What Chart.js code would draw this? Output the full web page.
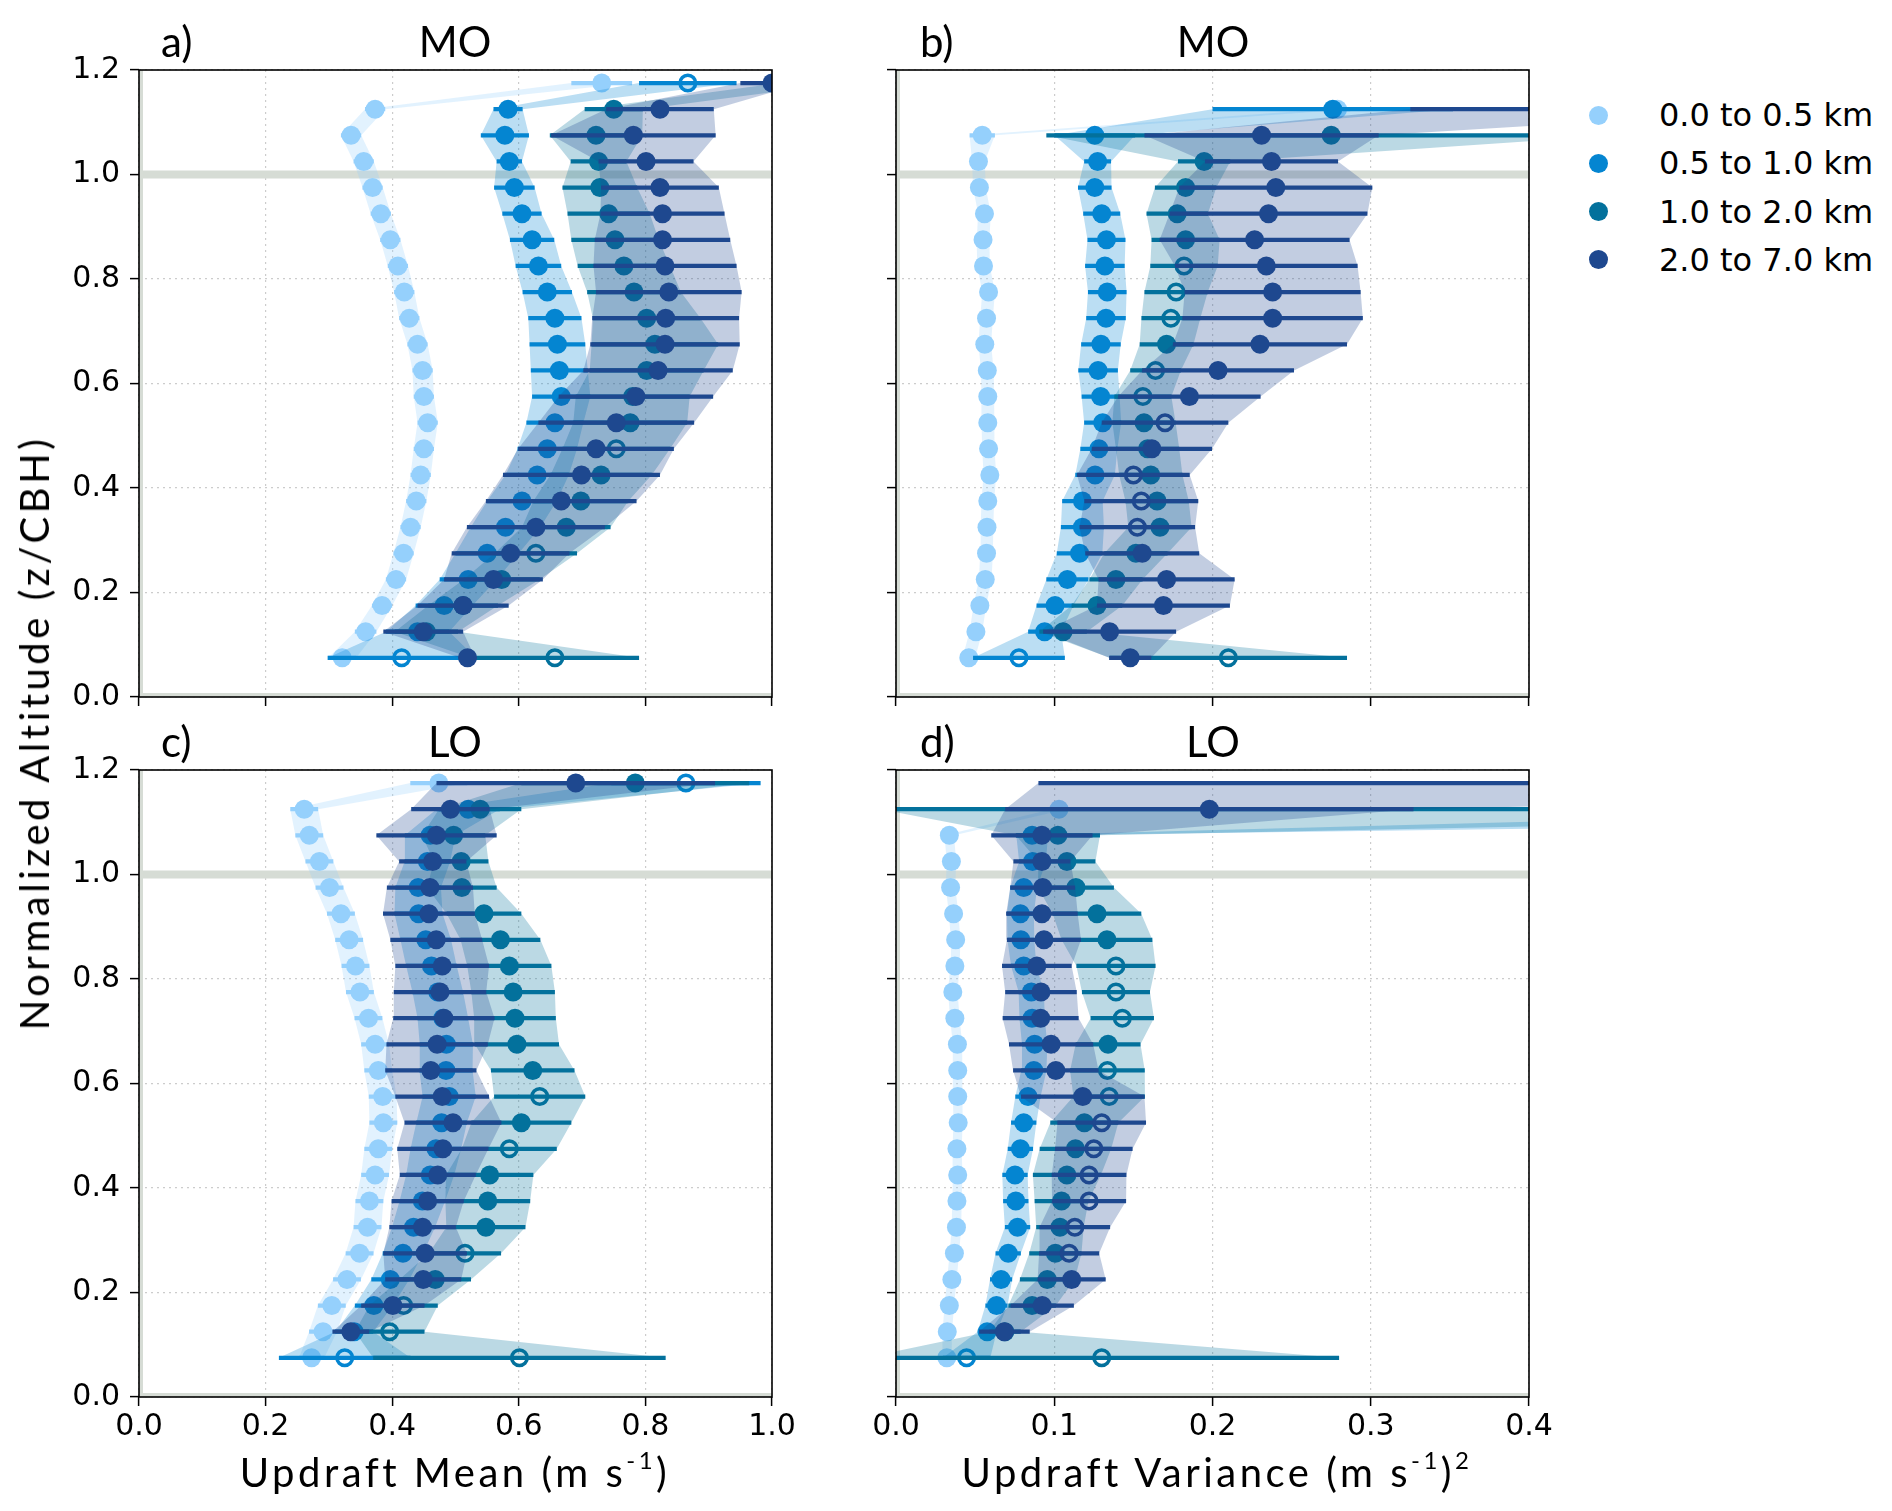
<!DOCTYPE html>
<html>
<head>
<meta charset="utf-8">
<script src="https://cdn.jsdelivr.net/npm/chart.js@4.4.1/dist/chart.umd.min.js"></script>
<style>
  body { margin: 0; background: #fff; width: 1892px; height: 1511px; position: relative; overflow: hidden; }
  canvas { position: absolute; }
  .txt { position: absolute; font-family: Lato, sans-serif; color: #000; white-space: nowrap; line-height: 1; z-index: 5; }
  .sup { font-size: 0.6em; position: relative; top: -0.75em; }
  .legend { position: absolute; left: 1589px; top: 99px; font-family: 'DejaVu Sans', sans-serif; font-size: 32px; z-index: 5; }
  .legend div { height: 32px; display: flex; align-items: center; margin-bottom: 16.3px; }
  .legend i { width: 19px; height: 19px; border-radius: 50%; display: inline-block; margin-right: 51px; }
</style>
</head>
<body>
<canvas id="pa" width="763" height="717" style="left:39px;top:40px"></canvas>
<canvas id="pb" width="763" height="717" style="left:796px;top:40px"></canvas>
<canvas id="pc" width="763" height="717" style="left:39px;top:740px"></canvas>
<canvas id="pd" width="763" height="717" style="left:796px;top:740px"></canvas>

<div class="txt" style="left:161px;top:20px;font-size:42px">a)</div>
<div class="txt" style="left:455px;top:20px;font-size:42px;transform:translateX(-50%)">MO</div>
<div class="txt" style="left:920px;top:20px;font-size:42px">b)</div>
<div class="txt" style="left:1213px;top:20px;font-size:42px;transform:translateX(-50%)">MO</div>
<div class="txt" style="left:161px;top:720px;font-size:42px">c)</div>
<div class="txt" style="left:455px;top:720px;font-size:42px;transform:translateX(-50%)">LO</div>
<div class="txt" style="left:920px;top:720px;font-size:42px">d)</div>
<div class="txt" style="left:1213px;top:720px;font-size:42px;transform:translateX(-50%)">LO</div>

<div class="txt" style="left:34px;top:733px;font-size:40px;letter-spacing:3.5px;transform:translate(-50%,-50%) rotate(-90deg)">Normalized Altitude (z/CBH)</div>
<div class="txt" style="left:455px;top:1452px;font-size:40px;letter-spacing:3.5px;transform:translateX(-50%)">Updraft Mean (m s<span class="sup">-1</span>)</div>
<div class="txt" style="left:1217px;top:1452px;font-size:40px;letter-spacing:3.5px;transform:translateX(-50%)">Updraft Variance (m s<span class="sup">-1</span>)<span class="sup">2</span></div>

<div class="legend" id="legend"></div>

<script>
// altitude bins (z/CBH), bottom to top
const LEVELS = [0.075, 0.125, 0.175, 0.225, 0.275, 0.325, 0.375, 0.425, 0.475, 0.525, 0.575, 0.625,
                0.675, 0.725, 0.775, 0.825, 0.875, 0.925, 0.975, 1.025, 1.075, 1.125, 1.175];
const BINS = ['0.0 to 0.5 km', '0.5 to 1.0 km', '1.0 to 2.0 km', '2.0 to 7.0 km'];
const COLORS = ['#95d0fc', '#0485d1', '#03719c', '#1e488f'];
const ALT_TICKS = [0, 0.2, 0.4, 0.6, 0.8, 1.0, 1.2];
const MEAN_TICKS = [0, 0.2, 0.4, 0.6, 0.8, 1.0];
const VAR_TICKS = [0, 0.1, 0.2, 0.3, 0.4];
const CLOUD_BASE = 1.0;

// a) MO, updraft mean
const moMeanB0 = [0.321,0.358,0.384,0.406,0.418,0.429,0.438,0.445,0.450,0.456,0.450,0.448,0.440,0.427,0.419,0.409,0.397,0.382,0.369,0.355,0.335,0.373,0.731];
const moMeanB0Err = [0.022,0.017,0.016,0.016,0.016,0.016,0.016,0.016,0.016,0.016,0.016,0.016,0.016,0.016,0.016,0.016,0.016,0.016,0.016,0.016,0.016,0.016,0.048];
const moMeanB1 = [0.415,0.440,0.482,0.520,0.550,0.579,0.605,0.629,0.645,0.657,0.667,0.664,0.661,0.657,0.645,0.631,0.621,0.605,0.593,0.585,0.578,0.583,0.867];
const moMeanB1Err = [0.117,0.050,0.045,0.045,0.050,0.055,0.055,0.050,0.047,0.045,0.046,0.045,0.044,0.042,0.039,0.036,0.035,0.031,0.032,0.020,0.038,0.023,0.077];
const moMeanB2 = [0.657,0.454,0.512,0.573,0.627,0.675,0.698,0.730,0.754,0.776,0.780,0.802,0.815,0.802,0.782,0.766,0.752,0.742,0.728,0.726,0.722,0.750,1.060];
const moMeanB2Err = [0.133,0.050,0.055,0.060,0.065,0.070,0.075,0.080,0.085,0.090,0.090,0.090,0.100,0.085,0.074,0.073,0.069,0.065,0.059,0.044,0.073,0.046,0.050];
const moMeanB3 = [0.519,0.449,0.512,0.560,0.587,0.627,0.667,0.699,0.722,0.754,0.785,0.820,0.831,0.832,0.837,0.831,0.827,0.827,0.823,0.801,0.781,0.823,1.000];
const moMeanB3Err = [0.012,0.063,0.072,0.078,0.093,0.109,0.119,0.124,0.123,0.123,0.122,0.118,0.118,0.116,0.115,0.113,0.107,0.098,0.093,0.075,0.130,0.085,0.050];
const moMeanOpen = [[], [0, 22], [0, 4, 8], []];   // level indices drawn as open circles

// b) MO, updraft variance
const moVarB0 = [0.046,0.0505,0.053,0.0564,0.0572,0.0575,0.058,0.0593,0.0585,0.058,0.058,0.0577,0.0561,0.0572,0.0585,0.0553,0.055,0.0559,0.0527,0.0521,0.0545,0.279,null];
const moVarB0Err = [0.004,0.004,0.004,0.004,0.004,0.004,0.004,0.004,0.004,0.004,0.004,0.004,0.004,0.004,0.004,0.004,0.004,0.004,0.004,0.004,0.008,0.008,null];
const moVarB1 = [0.0777,0.0939,0.1005,0.1083,0.116,0.1178,0.1178,0.1258,0.1282,0.1306,0.1293,0.1277,0.1295,0.1327,0.1335,0.132,0.133,0.130,0.1256,0.1274,0.1256,0.276,null];
const moVarB1Err = [0.029,0.0104,0.0117,0.0133,0.0144,0.0136,0.0128,0.0125,0.0117,0.0117,0.012,0.0125,0.0125,0.0125,0.0122,0.0125,0.012,0.0117,0.0106,0.0085,0.0255,0.076,null];
const moVarB2 = [0.210,0.1056,0.127,0.139,0.1516,0.1668,0.165,0.161,0.159,0.1567,0.156,0.164,0.171,0.1737,0.177,0.182,0.183,0.1777,0.183,0.1947,0.275,null,null];
const moVarB2Err = [0.075,0.015,0.016,0.0168,0.020,0.020,0.020,0.020,0.020,0.020,0.018,0.016,0.017,0.0186,0.020,0.0213,0.0215,0.0194,0.0194,0.0165,0.180,null,null];
const moVarB3 = [0.148,0.135,0.169,0.171,0.1556,0.1525,0.155,0.150,0.1617,0.170,0.1854,0.2035,0.230,0.238,0.238,0.234,0.2266,0.2354,0.240,0.2373,0.231,0.450,null];
const moVarB3Err = [0.0133,0.042,0.042,0.043,0.036,0.0365,0.036,0.0356,0.038,0.040,0.045,0.048,0.055,0.057,0.0556,0.0577,0.060,0.0625,0.061,0.042,0.074,0.125,null];
const moVarOpen = [[], [0], [0, 10, 11, 13, 14, 15], [5, 6, 7, 9]];

// c) LO, updraft mean
const loMeanB0 = [0.2727,0.2907,0.3046,0.3286,0.3485,0.361,0.364,0.373,0.378,0.386,0.385,0.378,0.373,0.3625,0.349,0.342,0.332,0.319,0.301,0.285,0.269,0.261,0.4736];
const loMeanB0Err = [0.020,0.022,0.022,0.022,0.022,0.022,0.022,0.022,0.022,0.022,0.022,0.022,0.022,0.022,0.022,0.022,0.022,0.022,0.022,0.022,0.022,0.022,0.045];
const loMeanB1 = [0.325,0.340,0.371,0.397,0.417,0.4337,0.4476,0.460,0.469,0.478,0.490,0.485,0.4855,0.480,0.472,0.462,0.453,0.4416,0.441,0.4556,0.460,0.520,0.864];
const loMeanB1Err = [0.104,0.030,0.030,0.030,0.032,0.034,0.036,0.038,0.040,0.040,0.042,0.042,0.042,0.040,0.040,0.040,0.040,0.038,0.036,0.036,0.040,0.050,0.118];
const loMeanB2 = [0.601,0.396,0.418,0.468,0.515,0.548,0.551,0.554,0.585,0.604,0.633,0.622,0.597,0.594,0.591,0.585,0.571,0.545,0.510,0.509,0.497,0.539,0.784];
const loMeanB2Err = [0.231,0.055,0.054,0.0565,0.057,0.0625,0.067,0.069,0.075,0.079,0.072,0.066,0.0665,0.0645,0.066,0.0665,0.063,0.059,0.055,0.043,0.050,0.065,0.180];
const loMeanB3 = [null,0.3346,0.401,0.449,0.452,0.448,0.456,0.472,0.480,0.496,0.479,0.461,0.471,0.4816,0.4755,0.479,0.4696,0.458,0.4596,0.464,0.470,0.492,0.690];
const loMeanB3Err = [null,0.029,0.050,0.060,0.066,0.0525,0.057,0.060,0.072,0.0765,0.074,0.072,0.080,0.080,0.073,0.074,0.0725,0.0725,0.068,0.053,0.095,0.062,0.220];
const loMeanOpen = [[], [0, 22], [0, 1, 2, 4, 8, 10], []];

// d) LO, updraft variance
const loVarB0 = [0.0321,0.0324,0.0337,0.0353,0.0369,0.0382,0.0385,0.039,0.0385,0.0393,0.039,0.039,0.0388,0.0372,0.0359,0.0372,0.0377,0.0364,0.0345,0.035,0.0337,0.103,null];
const loVarB0Err = [0.003,0.003,0.003,0.003,0.003,0.003,0.003,0.003,0.003,0.003,0.003,0.003,0.003,0.003,0.003,0.003,0.003,0.003,0.003,0.003,0.003,0.005,null];
const loVarB1 = [0.0446,0.0576,0.0635,0.0664,0.0709,0.0768,0.0757,0.0752,0.0786,0.0807,0.0834,0.0871,0.0876,0.086,0.0855,0.0807,0.0789,0.0786,0.0807,0.0863,0.086,1.0,null];
const loVarB1Err = [0.015,0.006,0.007,0.007,0.008,0.008,0.008,0.008,0.008,0.008,0.008,0.008,0.008,0.008,0.008,0.008,0.0085,0.0085,0.0085,0.0085,0.010,0.300,null];
const loVarB2 = [0.130,0.0688,0.086,0.0956,0.1007,0.1036,0.1046,0.108,0.1134,0.119,0.1347,0.1336,0.134,0.143,0.139,0.139,0.1333,0.127,0.1137,0.108,0.1023,0.460,null];
const loVarB2Err = [0.150,0.010,0.015,0.0173,0.0165,0.015,0.017,0.0215,0.0226,0.0215,0.0226,0.0236,0.0205,0.020,0.0215,0.025,0.0287,0.028,0.024,0.018,0.0266,0.470,null];
const loVarB3 = [null,0.0685,0.0924,0.111,0.1094,0.113,0.122,0.122,0.125,0.130,0.118,0.101,0.098,0.0914,0.0916,0.089,0.0935,0.0922,0.0927,0.0922,0.0922,0.198,0.550];
const loVarB3Err = [null,0.016,0.020,0.0215,0.019,0.0223,0.0234,0.0236,0.0245,0.028,0.039,0.027,0.0266,0.024,0.0226,0.022,0.0234,0.0226,0.0205,0.018,0.032,0.129,0.460];
const loVarOpen = [[], [0], [0, 10, 11, 13, 14, 15], [4, 5, 6, 7, 8, 9]];

function rgba(hex, a) {
  const n = parseInt(hex.slice(1), 16);
  return `rgba(${n >> 16},${(n >> 8) & 255},${n & 255},${a})`;
}

// box around the plot area, like matplotlib spines
const frame = {
  id: 'frame',
  afterDatasetsDraw(chart) {
    const { ctx, chartArea: a } = chart;
    ctx.save();
    ctx.strokeStyle = '#000';
    ctx.lineWidth = 1.6;
    ctx.strokeRect(a.left, a.top, a.right - a.left, a.bottom - a.top);
    ctx.restore();
  }
};

function makeDatasets(vals, errs, opens) {
  const ds = [];
  // thick grey reference lines at cloud base, z=0 and x=0
  ds.push({
    data: [{x: -5, y: CLOUD_BASE}, {x: 5, y: CLOUD_BASE}, {x: null, y: null},
           {x: -5, y: 0}, {x: 5, y: 0}, {x: null, y: null},
           {x: 0, y: -1}, {x: 0, y: 2}],
    borderColor: '#d6dcd5', borderWidth: 8, pointRadius: 0, fill: false, order: 500
  });
  let layer = 0;
  vals.forEach((v, s) => {
    const e = errs[s];
    const lo = [], hi = [], bars = [], pts = [];
    LEVELS.forEach((y, i) => {
      if (v[i] == null) return;
      lo.push({x: v[i] - e[i], y});
      hi.push({x: v[i] + e[i], y});
      bars.push({x: v[i] - e[i], y}, {x: v[i] + e[i], y}, {x: null, y: null});
      pts.push({x: v[i], y, open: opens[s].includes(i)});
    });
    ds.push({
      data: lo.concat(hi.reverse()), fill: 'shape', backgroundColor: rgba(COLORS[s], 0.27),
      borderWidth: 0, pointRadius: 0, order: 400 - layer++
    });
    ds.push({
      data: bars, borderColor: COLORS[s], borderWidth: 4.2, pointRadius: 0, fill: false,
      order: 400 - layer++
    });
    ds.push({
      data: pts, showLine: false,
      pointRadius: pts.map(p => p.open ? 7.8 : 9.5),
      pointBorderWidth: pts.map(p => p.open ? 3.5 : 0),
      pointBackgroundColor: pts.map(p => p.open ? 'rgba(0,0,0,0)' : COLORS[s]),
      pointBorderColor: COLORS[s],
      order: 400 - layer++
    });
  });
  return ds;
}

function axis(ticks, min, max, showLabels, isX) {
  return {
    type: 'linear', min, max,
    afterBuildTicks: sc => { sc.ticks = ticks.map(v => ({value: v})); },
    afterFit: sc => { if (isX) sc.height = 60; else sc.width = 100; },
    grid: { color: '#cccccc', lineWidth: 1.2, tickColor: '#000', tickWidth: 1.5, tickLength: 9, tickBorderDash: [] },
    border: { display: false, dash: [2, 4] },
    ticks: {
      display: showLabels, padding: isX ? 3 : 10, color: '#000', autoSkip: false, maxRotation: 0,
      font: { family: 'DejaVu Sans', size: 30 },
      callback: v => Number(v).toFixed(1)
    }
  };
}

function panel(id, vals, errs, opens, xTicks, xMax, showX, showY) {
  new Chart(document.getElementById(id), {
    type: 'line',
    data: { datasets: makeDatasets(vals, errs, opens) },
    options: {
      responsive: false, animation: false, events: [],
      layout: { padding: { top: 30, right: 30, left: 0, bottom: 0 } },
      plugins: { legend: { display: false }, tooltip: { enabled: false } },
      scales: {
        x: axis(xTicks, 0, xMax, showX, true),
        y: axis(ALT_TICKS, 0, 1.2, showY, false)
      }
    },
    plugins: [frame]
  });
}

panel('pa', [moMeanB0, moMeanB1, moMeanB2, moMeanB3], [moMeanB0Err, moMeanB1Err, moMeanB2Err, moMeanB3Err], moMeanOpen, MEAN_TICKS, 1.0, false, true);
panel('pb', [moVarB0, moVarB1, moVarB2, moVarB3], [moVarB0Err, moVarB1Err, moVarB2Err, moVarB3Err], moVarOpen, VAR_TICKS, 0.4, false, false);
panel('pc', [loMeanB0, loMeanB1, loMeanB2, loMeanB3], [loMeanB0Err, loMeanB1Err, loMeanB2Err, loMeanB3Err], loMeanOpen, MEAN_TICKS, 1.0, true, true);
panel('pd', [loVarB0, loVarB1, loVarB2, loVarB3], [loVarB0Err, loVarB1Err, loVarB2Err, loVarB3Err], loVarOpen, VAR_TICKS, 0.4, true, false);

const legend = document.getElementById('legend');
BINS.forEach((name, s) => {
  const row = document.createElement('div');
  row.innerHTML = `<i style="background:${COLORS[s]}"></i>${name}`;
  legend.appendChild(row);
});
</script>
</body>
</html>
